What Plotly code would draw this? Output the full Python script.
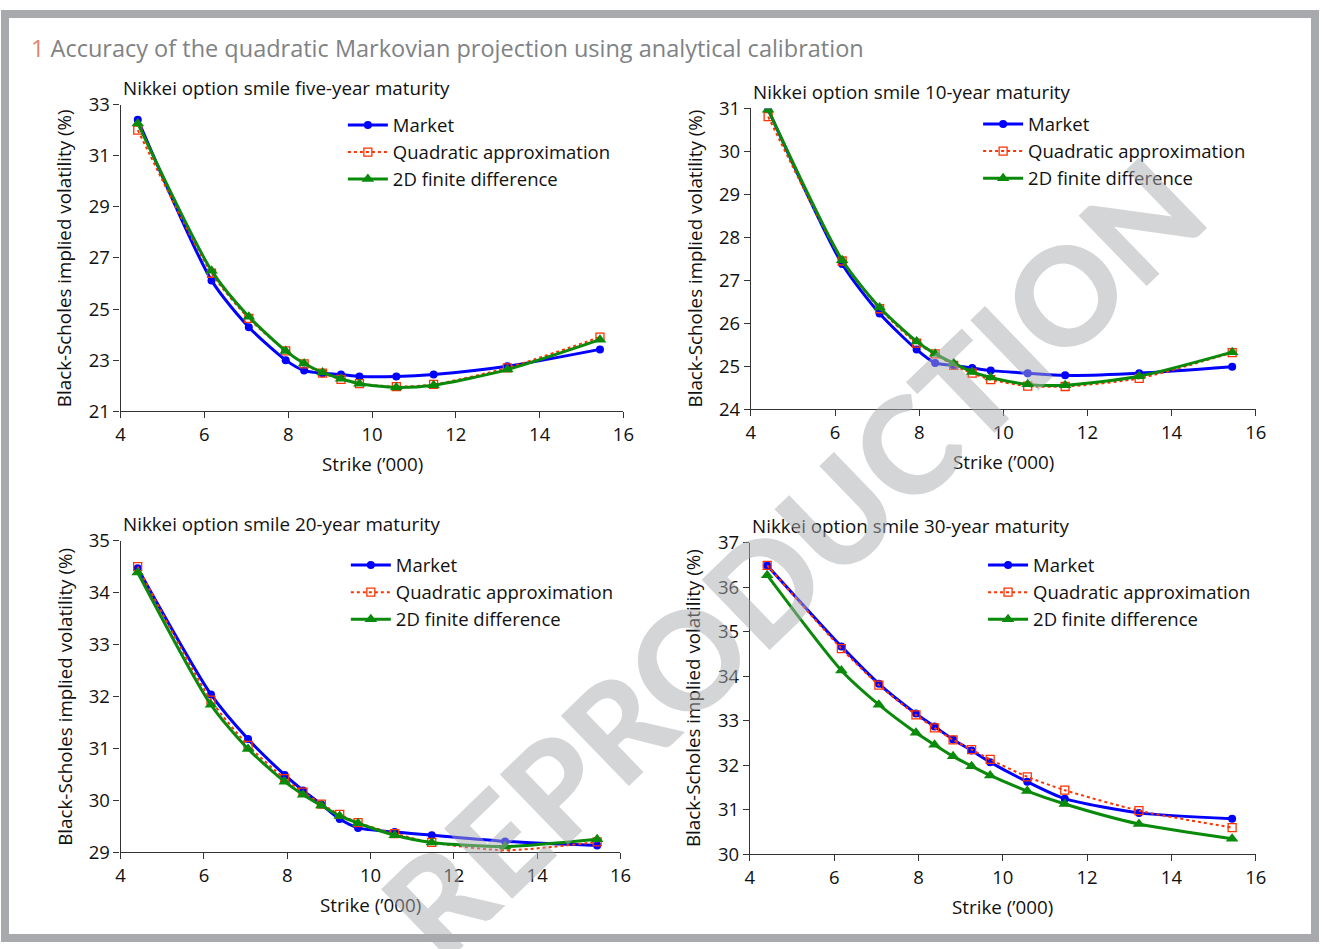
import plotly.graph_objects as go

W, H = 1326, 949

strikes = [4.41, 6.17, 7.06, 7.94, 8.38, 8.82, 9.26, 9.70, 10.58, 11.47, 13.23, 15.44]

# five-year maturity
market_5y = [32.41, 26.12, 24.29, 23.00, 22.59, 22.49, 22.44, 22.36, 22.36, 22.44, 22.76, 23.42]
quad_5y = [32.00, 26.40, 24.63, 23.36, 22.85, 22.49, 22.25, 22.08, 21.96, 22.05, 22.70, 23.90]
fd_5y = [32.26, 26.50, 24.70, 23.36, 22.87, 22.52, 22.27, 22.08, 21.93, 22.02, 22.63, 23.80]

# 10-year maturity
market_10y = [30.98, 27.38, 26.23, 25.39, 25.08, 25.02, 24.96, 24.90, 24.84, 24.79, 24.84, 24.99]
quad_10y = [30.81, 27.45, 26.34, 25.54, 25.29, 25.02, 24.84, 24.69, 24.54, 24.53, 24.72, 25.32]
fd_10y = [30.97, 27.47, 26.37, 25.58, 25.29, 25.07, 24.87, 24.74, 24.58, 24.56, 24.77, 25.33]

# 20-year maturity
market_20y = [34.47, 32.04, 31.18, 30.49, 30.19, 29.92, 29.64, 29.47, 29.39, 29.33, 29.21, 29.13]
quad_20y = [34.50, 31.93, 31.06, 30.42, 30.16, 29.93, 29.73, 29.57, 29.36, 29.19, 29.04, 29.20]
fd_20y = [34.39, 31.84, 30.99, 30.36, 30.11, 29.90, 29.70, 29.56, 29.33, 29.19, 29.11, 29.25]

# 30-year maturity
market_30y = [36.49, 34.67, 33.83, 33.16, 32.87, 32.58, 32.33, 32.07, 31.63, 31.25, 30.93, 30.80]
quad_30y = [36.49, 34.62, 33.80, 33.13, 32.84, 32.57, 32.35, 32.13, 31.74, 31.44, 30.98, 30.60]
fd_30y = [36.27, 34.13, 33.36, 32.73, 32.46, 32.20, 31.98, 31.77, 31.42, 31.13, 30.68, 30.35]

panel_titles = [
    "Nikkei option smile five-year maturity",
    "Nikkei option smile 10-year maturity",
    "Nikkei option smile 20-year maturity",
    "Nikkei option smile 30-year maturity",
]
series_names = ["Market", "Quadratic approximation", "2D finite difference"]
y_ranges = [(21, 33), (24, 31), (29, 35), (30, 37)]
y_dticks = [2, 1, 1, 1]
x_range = (4, 16)
x_title = "Strike (\u2019000)"
y_title = "Black-Scholes implied volatility (%)"
main_title_num = "1"
main_title = "Accuracy of the quadratic Markovian projection using analytical calibration"
watermark = "REPRODUCTION"

data = [
    (market_5y, quad_5y, fd_5y),
    (market_10y, quad_10y, fd_10y),
    (market_20y, quad_20y, fd_20y),
    (market_30y, quad_30y, fd_30y),
]

FONT = "Open Sans"
FS = 18.8
FS_TICK = 18.5
FS_LEG = 18.5

def px_x(p):
    return p / W

def px_y(p):
    return 1 - p / H

# plot areas in pixels: (left, right, top, bottom)
areas = [
    (117, 626, 93, 408),
    (755, 1266, 97, 406),
    (117, 623, 541, 861),
    (754, 1266, 543, 863),
]
legend_pos = [(342, 95), (985, 94), (345, 547), (990, 547)]

fig = go.Figure()

styles = [
    dict(line=dict(color="#0000FF", width=3), marker=dict(symbol="circle", size=8, color="#0000FF")),
    dict(line=dict(color="#FF3300", width=2, dash="dot"),
         marker=dict(symbol="square-open", size=8, color="#FF3300", line=dict(width=1.3))),
    dict(line=dict(color="#0A8A0A", width=3), marker=dict(symbol="triangle-up", size=11, color="#0A8A0A")),
]

annotations = []
for i in range(4):
    ax = "" if i == 0 else str(i + 1)
    legend_name = "legend" if i == 0 else "legend" + str(i + 1)
    for j in range(3):
        st = styles[j]
        fig.add_trace(go.Scatter(
            x=strikes, y=data[i][j], name=series_names[j], mode="lines+markers",
            line=dict(shape="spline", smoothing=0.7, **st["line"]),
            marker=st["marker"], xaxis="x" + ax, yaxis="y" + ax, legend=legend_name,
        ))
    l, r, t, b = areas[i]
    fig.update_layout(**{
        "xaxis" + ax: dict(
            domain=[px_x(l), px_x(r)], range=list(x_range), anchor="y" + ax,
            tickmode="linear", tick0=4, dtick=2, ticks="outside", ticklen=6,
            tickcolor="#333", showline=True, linecolor="#333", linewidth=1.2,
            showgrid=False, zeroline=False,
            tickfont=dict(family=FONT, size=FS_TICK, color="#111"),
        ),
        "yaxis" + ax: dict(
            domain=[px_y(b), px_y(t)], range=list(y_ranges[i]), anchor="x" + ax,
            tickmode="linear", tick0=y_ranges[i][0], dtick=y_dticks[i],
            ticks="outside", ticklen=6, tickcolor="#333",
            showline=True, linecolor="#333", linewidth=1.2,
            showgrid=False, zeroline=False,
            tickfont=dict(family=FONT, size=FS_TICK, color="#111"),
        ),
        legend_name: dict(
            x=px_x(legend_pos[i][0]), y=px_y(legend_pos[i][1]), xanchor="left", yanchor="top",
            bgcolor="rgba(0,0,0,0)", font=dict(family=FONT, size=FS_LEG, color="#111"),
            itemwidth=40, tracegroupgap=0,
        ),
    })
    annotations.append(dict(
        text=panel_titles[i], xref="paper", yref="paper", x=px_x(l), y=px_y(t - 17),
        xanchor="left", yanchor="middle", showarrow=False,
        font=dict(family=FONT, size=FS, color="#111"),
    ))
    annotations.append(dict(
        text=x_title, xref="paper", yref="paper", x=px_x((l + r) / 2), y=px_y(b + 54),
        xanchor="center", yanchor="middle", showarrow=False,
        font=dict(family=FONT, size=FS, color="#111"),
    ))
    annotations.append(dict(
        text=y_title, xref="paper", yref="paper", x=px_x(l - 57), y=px_y((t + b) / 2),
        xanchor="center", yanchor="middle", showarrow=False, textangle=-90,
        font=dict(family=FONT, size=FS, color="#111"),
    ))

annotations.append(dict(
    text=f"<span style='color:#E8836B'>{main_title_num}</span> {main_title}",
    xref="paper", yref="paper", x=px_x(24), y=px_y(35), xanchor="left", yanchor="middle",
    showarrow=False, font=dict(family=FONT, size=23.5, color="#808285"),
))
annotations.append(dict(
    text=watermark, xref="paper", yref="paper", x=px_x(797), y=px_y(557),
    xanchor="center", yanchor="middle", showarrow=False, textangle=-44,
    font=dict(family="Lato", size=135, weight=900, color="rgba(170,172,176,0.5)"),
))

fig.update_layout(
    width=W, height=H, margin=dict(l=0, r=0, t=0, b=0),
    paper_bgcolor="white", plot_bgcolor="white",
    annotations=annotations,
    shapes=[dict(type="rect", xref="paper", yref="paper", x0=0, y0=0, x1=1, y1=1,
                 line=dict(color="#A7A9AC", width=8), fillcolor="rgba(0,0,0,0)")],
    showlegend=True,
)

post = (
    "document.documentElement.style.margin='0';"
    "document.body.style.margin='0';"
)

fig.write_html(
    "out.html",
    config={"responsive": False, "displayModeBar": False},
    post_script=post,
)
